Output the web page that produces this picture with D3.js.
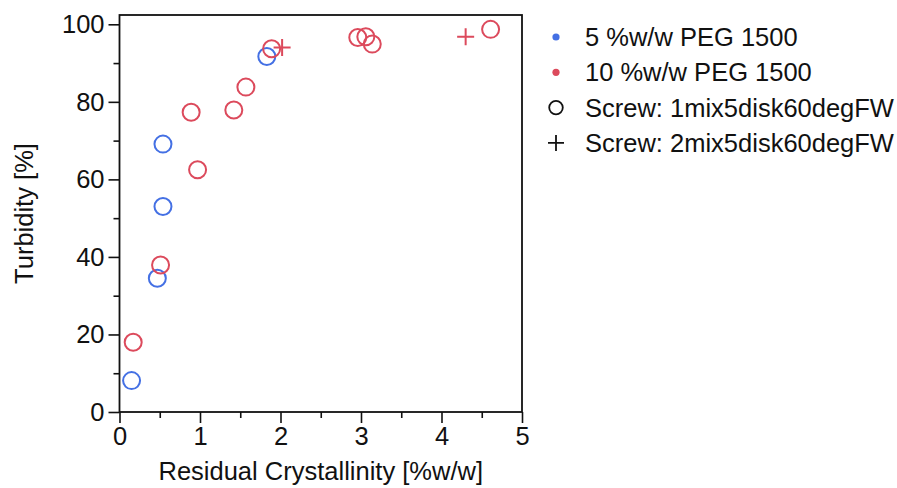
<!DOCTYPE html>
<html>
<head>
<meta charset="utf-8">
<script src="https://cdn.jsdelivr.net/npm/d3@7"></script>
<style>
  body { margin: 0; background: #fff; }
  svg text { font-family: "Liberation Sans", Arial, sans-serif; fill: #111; }
</style>
</head>
<body>
<script>
// 5 %w/w PEG 1500 (screw 1mix5disk60degFW, circles)
const peg5X = [0.15, 0.47, 0.54, 0.54, 1.83]
const peg5Y = [8.1, 34.5, 53.0, 69.1, 91.7]

// 10 %w/w PEG 1500 (screw 1mix5disk60degFW, circles)
const peg10X = [0.17, 0.51, 0.97, 0.89, 1.42, 1.57, 1.89, 2.96, 3.06, 3.14, 4.61]
const peg10Y = [18.0, 37.9, 62.5, 77.3, 77.9, 83.8, 93.7, 96.6, 96.8, 94.9, 98.7]

// 10 %w/w PEG 1500 (screw 2mix5disk60degFW, plus)
const peg10PlusX = [2.02, 4.30]
const peg10PlusY = [94.0, 96.8]

const xTicks = [0, 1, 2, 3, 4, 5]
const yTicks = [0, 20, 40, 60, 80, 100]

const legendNames = ['5 %w/w PEG 1500', '10 %w/w PEG 1500', 'Screw: 1mix5disk60degFW', 'Screw: 2mix5disk60degFW']

const blue = '#4470e4'
const red = '#dc4a5c'
const fontSize = 25.5

const W = 897, H = 488
const margin = { top: 15, right: 375, bottom: 76, left: 119.5 }
const width = W - margin.left - margin.right
const height = H - margin.top - margin.bottom

const svg = d3.select('body').append('svg')
    .attr('width', W)
    .attr('height', H)

const g = svg.append('g')
    .attr('transform', 'translate(' + margin.left + ',' + margin.top + ')')

// echelles
const x = d3.scaleLinear().domain([0, 5]).range([0, width])
const y = d3.scaleLinear().domain([0, 102.4]).range([height, 0])

// ticks mineurs (a mi-chemin)
const xMinor = d3.range(0.5, 5, 1)
const yMinor = d3.range(10, 101, 20)

// axe X
g.append('g')
    .attr('transform', 'translate(0,' + height + ')')
    .call(d3.axisBottom(x).tickValues(xTicks).tickSize(11).tickPadding(4).tickFormat(d3.format('d')))
g.append('g')
    .attr('transform', 'translate(0,' + height + ')')
    .call(d3.axisBottom(x).tickValues(xMinor).tickSize(6).tickFormat(''))

// axe Y
g.append('g')
    .call(d3.axisLeft(y).tickValues(yTicks).tickSize(11).tickPadding(4).tickFormat(d3.format('d')))
g.append('g')
    .call(d3.axisLeft(y).tickValues(yMinor).tickSize(6).tickFormat(''))

g.selectAll('.domain').remove()
g.selectAll('.tick line').attr('stroke', '#111').attr('stroke-width', 1.6)
g.selectAll('.tick text').attr('font-size', fontSize).attr('fill', '#111')

// cadre
g.append('rect')
    .attr('x', 0)
    .attr('y', 0)
    .attr('width', width)
    .attr('height', height)
    .attr('fill', 'none')
    .attr('stroke', '#111')
    .attr('stroke-width', 1.8)

// titres des axes
svg.append('text')
    .attr('text-anchor', 'middle')
    .attr('x', margin.left + width / 2)
    .attr('y', 480)
    .attr('font-size', fontSize)
    .text('Residual Crystallinity [%w/w]')

svg.append('text')
    .attr('text-anchor', 'middle')
    .attr('transform', 'translate(33,' + (margin.top + height / 2) + ') rotate(-90)')
    .attr('font-size', fontSize)
    .text('Turbidity [%]')

// cercles
function drawCircles(xs, ys, color) {
    g.append('g')
        .selectAll('circle')
        .data(xs.map((d, i) => [d, ys[i]]))
        .join('circle')
        .attr('cx', d => x(d[0]))
        .attr('cy', d => y(d[1]))
        .attr('r', 8.5)
        .attr('fill', 'none')
        .attr('stroke', color)
        .attr('stroke-width', 2)
}
drawCircles(peg5X, peg5Y, blue)
drawCircles(peg10X, peg10Y, red)

// croix
function plus(s) {
    return 'M' + (-s) + ',0H' + s + 'M0,' + (-s) + 'V' + s
}
g.append('g')
    .selectAll('path')
    .data(peg10PlusX.map((d, i) => [d, peg10PlusY[i]]))
    .join('path')
    .attr('transform', d => 'translate(' + x(d[0]) + ',' + y(d[1]) + ')')
    .attr('d', plus(8.5))
    .attr('fill', 'none')
    .attr('stroke', red)
    .attr('stroke-width', 2)

// legende
const legend = svg.append('g').attr('transform', 'translate(556,37)')
const rowH = 35.3
legendNames.forEach((name, i) => {
    const row = legend.append('g').attr('transform', 'translate(0,' + (i * rowH) + ')')
    if (i === 0 || i === 1) {
        row.append('circle').attr('r', 3.6).attr('fill', i === 0 ? blue : red)
    } else if (i === 2) {
        row.append('circle').attr('r', 6.8).attr('fill', 'none').attr('stroke', '#111').attr('stroke-width', 1.8)
    } else {
        row.append('path').attr('d', plus(8)).attr('stroke', '#111').attr('stroke-width', 1.8)
    }
    row.append('text')
        .attr('x', 29)
        .attr('dy', '0.35em')
        .attr('font-size', fontSize)
        .text(name)
})
</script>
</body>
</html>
